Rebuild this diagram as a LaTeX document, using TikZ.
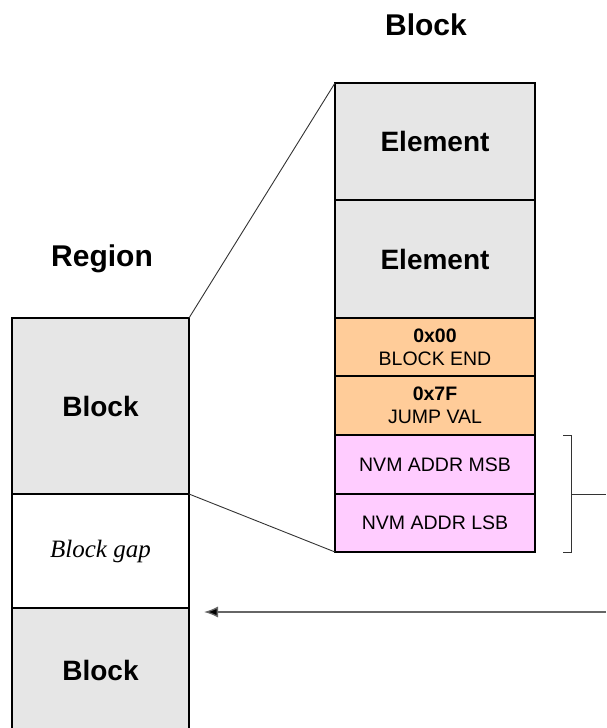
\documentclass[tikz,border=0pt]{standalone}
\usepackage{fontspec}
\setmainfont{Liberation Sans}
\newfontfamily\serifit{Liberation Serif}
\usetikzlibrary{arrows.meta,calc}
\definecolor{cellgray}{HTML}{E6E6E6}
\definecolor{cellorange}{HTML}{FFCC99}
\definecolor{cellpink}{HTML}{FFCCFF}
\definecolor{linegray}{HTML}{333333}
\tikzset{
  cell/.style={draw=black, line width=2pt, rectangle, inner sep=0pt, outer sep=0pt, anchor=north west, align=center},
  lcell/.style={cell, minimum width=177pt},
  rcell/.style={cell, minimum width=200pt},
  bigtxt/.style={font=\fontsize{28}{30}\selectfont\bfseries},
  smalltxt/.style={font=\fontsize{19.5}{23}\selectfont},
  titletxt/.style={font=\fontsize{30}{32}\selectfont\bfseries},
  zoomline/.style={draw=linegray, line width=0.9pt},
}
\begin{document}
\begin{tikzpicture}[x=1pt,y=-1pt]
\useasboundingbox (0,0) rectangle (606,728);
\clip (0,0) rectangle (606,728);
% titles
\node[titletxt] (tblock) at (426,25) {Block};
\node[titletxt] (tregion) at (102,259) {Region};
% left column
\node[lcell, fill=cellgray, minimum height=176pt, bigtxt] (lblk) at (12,318) {Block};
\node[lcell, fill=white, minimum height=114pt, font=\fontsize{25}{28}\selectfont\serifit\itshape] (gap) at (12,494) {Block gap};
\node[lcell, fill=cellgray, minimum height=124pt, bigtxt] (lblk2) at (12,608) {};
\node[bigtxt] (lblk2txt) at (100.5,670) {Block};
% right column
\node[rcell, fill=cellgray, minimum height=117pt, bigtxt] (el1) at (335,83) {Element};
\node[rcell, fill=cellgray, minimum height=118pt, bigtxt] (el2) at (335,200) {Element};
\node[rcell, fill=cellorange, minimum height=58pt, smalltxt] (bend) at (335,318) {\textbf{0x00}\\BLOCK END};
\node[rcell, fill=cellorange, minimum height=59pt, smalltxt] (jval) at (335,376) {\textbf{0x7F}\\JUMP VAL};
\node[rcell, fill=cellpink, minimum height=59pt, smalltxt] (msb) at (335,435) {NVM ADDR MSB};
\node[rcell, fill=cellpink, minimum height=58pt, smalltxt] (lsb) at (335,494) {NVM ADDR LSB};
% zoom lines
\draw[zoomline] (lblk.north east) -- (el1.north west);
\draw[zoomline] (lblk.south east) -- (lsb.south west);
% bracket
\coordinate (brt) at ($(msb.north east)+(36,0)$);
\coordinate (brb) at ($(lsb.south east)+(36,0)$);
\coordinate (brm) at ($(msb.south east)+(36,0)$);
\coordinate (brout) at (606,494);
\draw[draw=linegray, line width=1pt] ($(brt)+(-8,0)$) -- (brt) -- (brb) -- ($(brb)+(-8,0)$);
\draw[draw=linegray, line width=1pt] (brm) -- (brout);
% arrow
\coordinate (arrs) at (606,612);
\coordinate (arre) at (204,612);
\draw[draw=gray!80!black, line width=1.3pt, -{Latex[length=14pt,width=11pt,fill=black]}] (arrs) -- (arre);
\end{tikzpicture}
\end{document}
